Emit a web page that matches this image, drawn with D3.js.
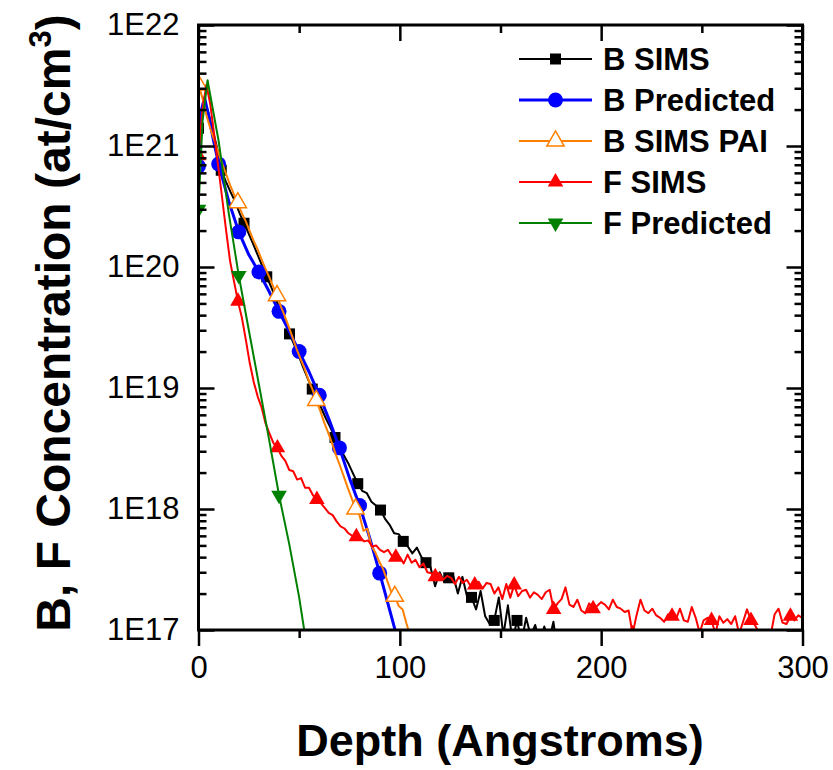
<!DOCTYPE html>
<html>
<head>
<meta charset="utf-8">
<script src="https://cdn.jsdelivr.net/npm/d3@7"></script>
<style>
  body { margin: 0; background: #fff; }
  svg { font-family: Arial, "Liberation Sans", sans-serif; }
</style>
</head>
<body>
<div id="chart"></div>
<script>
// ---- data (depth in Angstroms, concentration in at/cm3) ----
const xTickValues = [0, 100, 200, 300];
const xTickLabels = ["0", "100", "200", "300"];
const xMinorTicks = [50, 150, 250];
const yTickValues = [1e17, 1e18, 1e19, 1e20, 1e21, 1e22];
const yTickLabels = ["1E17", "1E18", "1E19", "1E20", "1E21", "1E22"];

// B SIMS: evenly sampled
const bSimsStep = 2.26;
const bSimsConc = [
  1.4e21, 2.2e21, 2.0e21, 1.4e21, 1.0e21, 6.3e20, 5.1e20, 4.2e20, 3.5e20, 2.8e20,
  2.3e20, 1.9e20, 1.55e20, 1.26e20, 1.02e20, 8.3e19, 6.8e19, 5.4e19, 4.4e19, 3.5e19,
  2.8e19, 2.3e19, 1.86e19, 1.48e19, 1.2e19, 9.8e18, 8.1e18, 6.8e18, 5.6e18, 4.7e18,
  3.9e18, 3.3e18, 2.75e18, 2.35e18, 1.95e18, 1.62e18, 1.41e18, 1.35e18, 1.15e18, 1.07e18,
  9.8e17, 8.3e17, 7.4e17, 6.3e17, 6.2e17, 5.4e17, 4.9e17, 4.3e17, 4.8e17, 4.0e17,
  3.6e17, 3.3e17, 2.3e17, 3.0e17, 2.5e17, 2.7e17, 2.8e17, 2.0e17, 2.75e17, 1.9e17,
  1.86e17, 1.48e17, 2.1e17, 1.3e17, 1.12e17, 1.2e17, 1.86e17, 9e16, 1.6e17, 8e16,
  1.2e17, 8e16, 1.26e17, 9e16, 1.1e17, 8e16, 1.07e17, 8e16, 1.17e17, 6.3e16, 8e16
];

// B Predicted
const bPredDepth = [0, 1.5, 3, 5, 7.5, 10, 15, 20, 25, 30, 35, 40, 45, 50, 55, 60, 65, 70, 75, 80, 85, 90, 95, 98];
const bPredConc = [
  6.8e20, 2.0e21, 2.5e21, 1.8e21, 1.1e21, 7.1e20, 3.5e20, 1.95e20, 1.26e20, 9.1e19,
  6.3e19, 4.3e19, 2.95e19, 2.0e19, 1.35e19, 8.7e18, 5.4e18, 3.2e18, 1.8e18, 1.07e18,
  5.8e17, 2.95e17, 1.45e17, 9.5e16
];

// B SIMS PAI: evenly sampled
const paiStep = 1.95;
const paiConc = [
  3.2e21, 2.5e21, 1.8e21, 1.4e21, 1.12e21, 8.9e20, 7.2e20, 5.9e20, 4.8e20, 4.0e20,
  3.4e20, 2.8e20, 2.4e20, 2.0e20, 1.66e20, 1.41e20, 1.17e20, 9.8e19, 8.3e19, 6.9e19,
  5.8e19, 4.7e19, 3.9e19, 3.2e19, 2.6e19, 2.1e19, 1.74e19, 1.45e19, 1.17e19, 9.8e18,
  7.9e18, 6.5e18, 5.2e18, 4.3e18, 3.5e18, 2.8e18, 2.3e18, 1.86e18, 1.5e18, 1.23e18,
  1.0e18, 8.9e17, 6.6e17, 6.9e17, 5.0e17, 4.4e17, 3.7e17, 3.2e17, 2.6e17, 2.1e17,
  1.9e17, 1.58e17, 1.48e17, 1.12e17, 8.9e16
];

// F SIMS: evenly sampled
const fSimsStep = 1.96;
const fSimsConc = [
  8.3e20, 2.0e21, 3.2e21, 2.2e21, 1.23e21, 6.8e20, 3.7e20, 2.0e20, 1.12e20, 7.6e19,
  5.2e19, 3.8e19, 2.5e19, 1.6e19, 1.12e19, 8.5e18, 6.9e18, 5.1e18, 4.2e18, 3.5e18,
  3.2e18, 2.75e18, 2.5e18, 2.1e18, 2.05e18, 1.75e18, 1.8e18, 1.5e18, 1.5e18, 1.3e18,
  1.2e18, 1.12e18, 1.02e18, 9.3e17, 8.9e17, 7.9e17, 7.2e17, 6.9e17, 6.3e17, 6.0e17,
  5.9e17, 5.75e17, 5.4e17, 5.5e17, 4.9e17, 5.0e17, 4.6e17, 4.4e17, 4.6e17, 4.1e17,
  4.0e17, 4.0e17, 3.55e17, 4.2e17, 3.6e17, 3.8e17, 3.3e17, 3.55e17, 3.0e17, 2.95e17,
  2.75e17, 2.95e17, 2.6e17, 2.8e17, 2.7e17, 2.4e17, 2.75e17, 2.45e17, 2.6e17, 2.3e17,
  2.35e17, 2.5e17, 2.2e17, 2.45e17, 2.4e17, 2.0e17, 2.25e17, 1.8e17, 2.4e17, 1.85e17,
  2.35e17, 1.9e17, 2.1e17, 2.15e17, 1.85e17, 2.05e17, 1.95e17, 1.8e17, 2.05e17, 2.15e17,
  1.48e17, 1.66e17, 1.8e17, 2.25e17, 1.62e17, 1.55e17, 1.78e17, 1.45e17, 1.38e17, 1.66e17,
  1.5e17, 1.58e17, 1.7e17, 1.62e17, 1.48e17, 1.78e17, 1.55e17, 1.5e17, 1.41e17, 1.45e17,
  9.3e16, 1.32e17, 1.78e17, 1.45e17, 1.38e17, 1.5e17, 1.32e17, 1.26e17, 1.17e17, 1.35e17,
  1.3e17, 1.23e17, 1.5e17, 1.2e17, 1.17e17, 1.55e17, 1.26e17, 9.5e16, 1.2e17, 1.26e17,
  1.2e17, 9.3e16, 1.3e17, 1.15e17, 1.23e17, 1.12e17, 1.3e17, 9.3e16, 1.17e17, 1.48e17,
  1.2e17, 1.1e17, 9.5e16, 9.3e16, 9.5e16, 9.1e16, 1.35e17, 1.5e17, 1.15e17, 1.12e17,
  1.3e17, 1.2e17, 1.32e17, 1.26e17
];

// F Predicted
const fPredDepth = [0, 2, 4.5, 10, 15, 20, 25, 30, 35, 40, 45, 50, 52.5, 54];
const fPredConc = [3.0e20, 1.6e21, 3.5e21, 1.1e21, 2.8e20, 8.5e19, 3.0e19, 1.07e19, 3.8e18, 1.3e18, 5.2e17, 1.86e17, 1.0e17, 8e16];

// ---- layout ----
const W = 833, H = 770;
const plotLeft = 198.5, plotRight = 802.5, plotTop = 25, plotBottom = 630;

const svg = d3.select("#chart")
  .append("svg")
    .attr("width", W)
    .attr("height", H);

const x = d3.scaleLinear().domain([0, 300]).range([plotLeft, plotRight]);
const y = d3.scaleLog().domain([1e17, 1e22]).range([plotBottom, plotTop]);

// minor ticks on the log axis: 2..9 x each decade
const yMinorTicks = [];
yTickValues.slice(0, -1).forEach(d => {
  for (let k = 2; k <= 9; k++) yMinorTicks.push(d * k);
});

const series = [
  { name: "B SIMS", color: "#000000", lw: 2, sym: d3.symbolSquare, size: 121, fill: "#000000", rot: 0,
    pts: bSimsConc.map((c, i) => ({ x: i * bSimsStep, c, mark: i % 5 === 0 })) },
  { name: "B Predicted", color: "#0000ff", lw: 3, sym: d3.symbolCircle, size: 175, fill: "#0000ff", rot: 0,
    pts: bPredConc.map((c, i) => ({ x: bPredDepth[i], c, mark: bPredDepth[i] % 10 === 0 })) },
  { name: "B SIMS PAI", color: "#ff8000", lw: 2, sym: d3.symbolTriangle, size: 130, fill: "#ffffff", rot: 0,
    pts: paiConc.map((c, i) => ({ x: i * paiStep, c, mark: i % 10 === 0 })) },
  { name: "F SIMS", color: "#ff0000", lw: 2, sym: d3.symbolTriangle, size: 105, fill: "#ff0000", rot: 0,
    pts: fSimsConc.map((c, i) => ({ x: i * fSimsStep, c, mark: i % 10 === 0 })) },
  { name: "F Predicted", color: "#008000", lw: 2, sym: d3.symbolTriangle, size: 105, fill: "#008000", rot: 180,
    pts: fPredConc.map((c, i) => ({ x: fPredDepth[i], c, mark: fPredDepth[i] % 20 === 0 })) }
];

svg.append("clipPath").attr("id", "plotClip")
  .append("rect")
    .attr("x", plotLeft).attr("y", plotTop)
    .attr("width", plotRight - plotLeft).attr("height", plotBottom - plotTop);

const plot = svg.append("g").attr("clip-path", "url(#plotClip)");

const line = d3.line()
  .x(d => x(d.x))
  .y(d => y(d.c));

series.forEach(s => {
  const g = plot.append("g");
  g.append("path")
    .datum(s.pts)
    .attr("fill", "none")
    .attr("stroke", s.color)
    .attr("stroke-width", s.lw)
    .attr("stroke-linejoin", "round")
    .attr("d", line);
  g.selectAll("path.mark")
    .data(s.pts.filter(d => d.mark))
    .enter().append("path")
      .attr("class", "mark")
      .attr("d", d3.symbol().type(s.sym).size(s.size))
      .attr("transform", d => `translate(${x(d.x)},${y(d.c)}) rotate(${s.rot})`)
      .attr("fill", s.fill)
      .attr("stroke", s.color)
      .attr("stroke-width", s.fill === "#ffffff" ? 1.5 : 0);
});

// ---- axes ----
function styleAxis(g) {
  g.select(".domain").remove();
  g.selectAll(".tick line").attr("stroke", "#000").attr("stroke-width", 2.5);
  g.selectAll(".tick text")
    .attr("fill", "#000")
    .style("font-size", "31px")
    .style("font-family", "Arial, 'Liberation Sans', sans-serif");
}

svg.append("g")
  .attr("transform", `translate(0,${plotBottom})`)
  .call(d3.axisBottom(x).tickValues(xTickValues).tickSize(16).tickPadding(10)
    .tickFormat((d, i) => xTickLabels[i]))
  .call(styleAxis);
svg.append("g")
  .attr("transform", `translate(0,${plotBottom})`)
  .call(d3.axisBottom(x).tickValues(xMinorTicks).tickSize(8).tickFormat(""))
  .call(styleAxis);
svg.append("g")
  .attr("transform", `translate(0,${plotTop})`)
  .call(d3.axisTop(x).tickValues(xTickValues).tickSize(-16).tickFormat(""))
  .call(styleAxis);
svg.append("g")
  .attr("transform", `translate(0,${plotTop})`)
  .call(d3.axisTop(x).tickValues(xMinorTicks).tickSize(-8).tickFormat(""))
  .call(styleAxis);

svg.append("g")
  .attr("transform", `translate(${plotLeft},0)`)
  .call(d3.axisLeft(y).tickValues(yTickValues).tickSize(-16).tickPadding(19)
    .tickFormat((d, i) => yTickLabels[i]))
  .call(styleAxis);
svg.append("g")
  .attr("transform", `translate(${plotLeft},0)`)
  .call(d3.axisLeft(y).tickValues(yMinorTicks).tickSize(-8).tickFormat(""))
  .call(styleAxis);
svg.append("g")
  .attr("transform", `translate(${plotRight},0)`)
  .call(d3.axisRight(y).tickValues(yTickValues).tickSize(-16).tickFormat(""))
  .call(styleAxis);
svg.append("g")
  .attr("transform", `translate(${plotRight},0)`)
  .call(d3.axisRight(y).tickValues(yMinorTicks).tickSize(-8).tickFormat(""))
  .call(styleAxis);

// frame
svg.append("rect")
  .attr("x", plotLeft).attr("y", plotTop)
  .attr("width", plotRight - plotLeft).attr("height", plotBottom - plotTop)
  .attr("fill", "none")
  .attr("stroke", "#000")
  .attr("stroke-width", 3);

// ---- titles ----
svg.append("text")
  .attr("x", 500)
  .attr("y", 756)
  .attr("text-anchor", "middle")
  .style("font-size", "45px")
  .style("font-weight", "bold")
  .text("Depth (Angstroms)");

const yTitle = svg.append("text")
  .attr("transform", "translate(70,323) rotate(-90)")
  .attr("text-anchor", "middle")
  .style("font-size", "48px")
  .style("font-weight", "bold");
yTitle.append("tspan").text("B, F Concentration (at/cm");
yTitle.append("tspan").attr("dy", -19).style("font-size", "31px").text("3");
yTitle.append("tspan").attr("dy", 19).text(")");

// ---- legend ----
const legend = svg.append("g");
const legendY = d3.scalePoint().domain(series.map(s => s.name)).range([59, 223]);
series.forEach(s => {
  const ly = legendY(s.name);
  legend.append("line")
    .attr("x1", 519).attr("x2", 592)
    .attr("y1", ly).attr("y2", ly)
    .attr("stroke", s.color)
    .attr("stroke-width", s.lw);
  legend.append("path")
    .attr("d", d3.symbol().type(s.sym).size(s.size))
    .attr("transform", `translate(555.5,${ly}) rotate(${s.rot})`)
    .attr("fill", s.fill)
    .attr("stroke", s.color)
    .attr("stroke-width", s.fill === "#ffffff" ? 1.5 : 0);
  legend.append("text")
    .attr("x", 603)
    .attr("y", ly + 11)
    .style("font-size", "31px")
    .style("font-weight", "bold")
    .text(s.name);
});
</script>
</body>
</html>
